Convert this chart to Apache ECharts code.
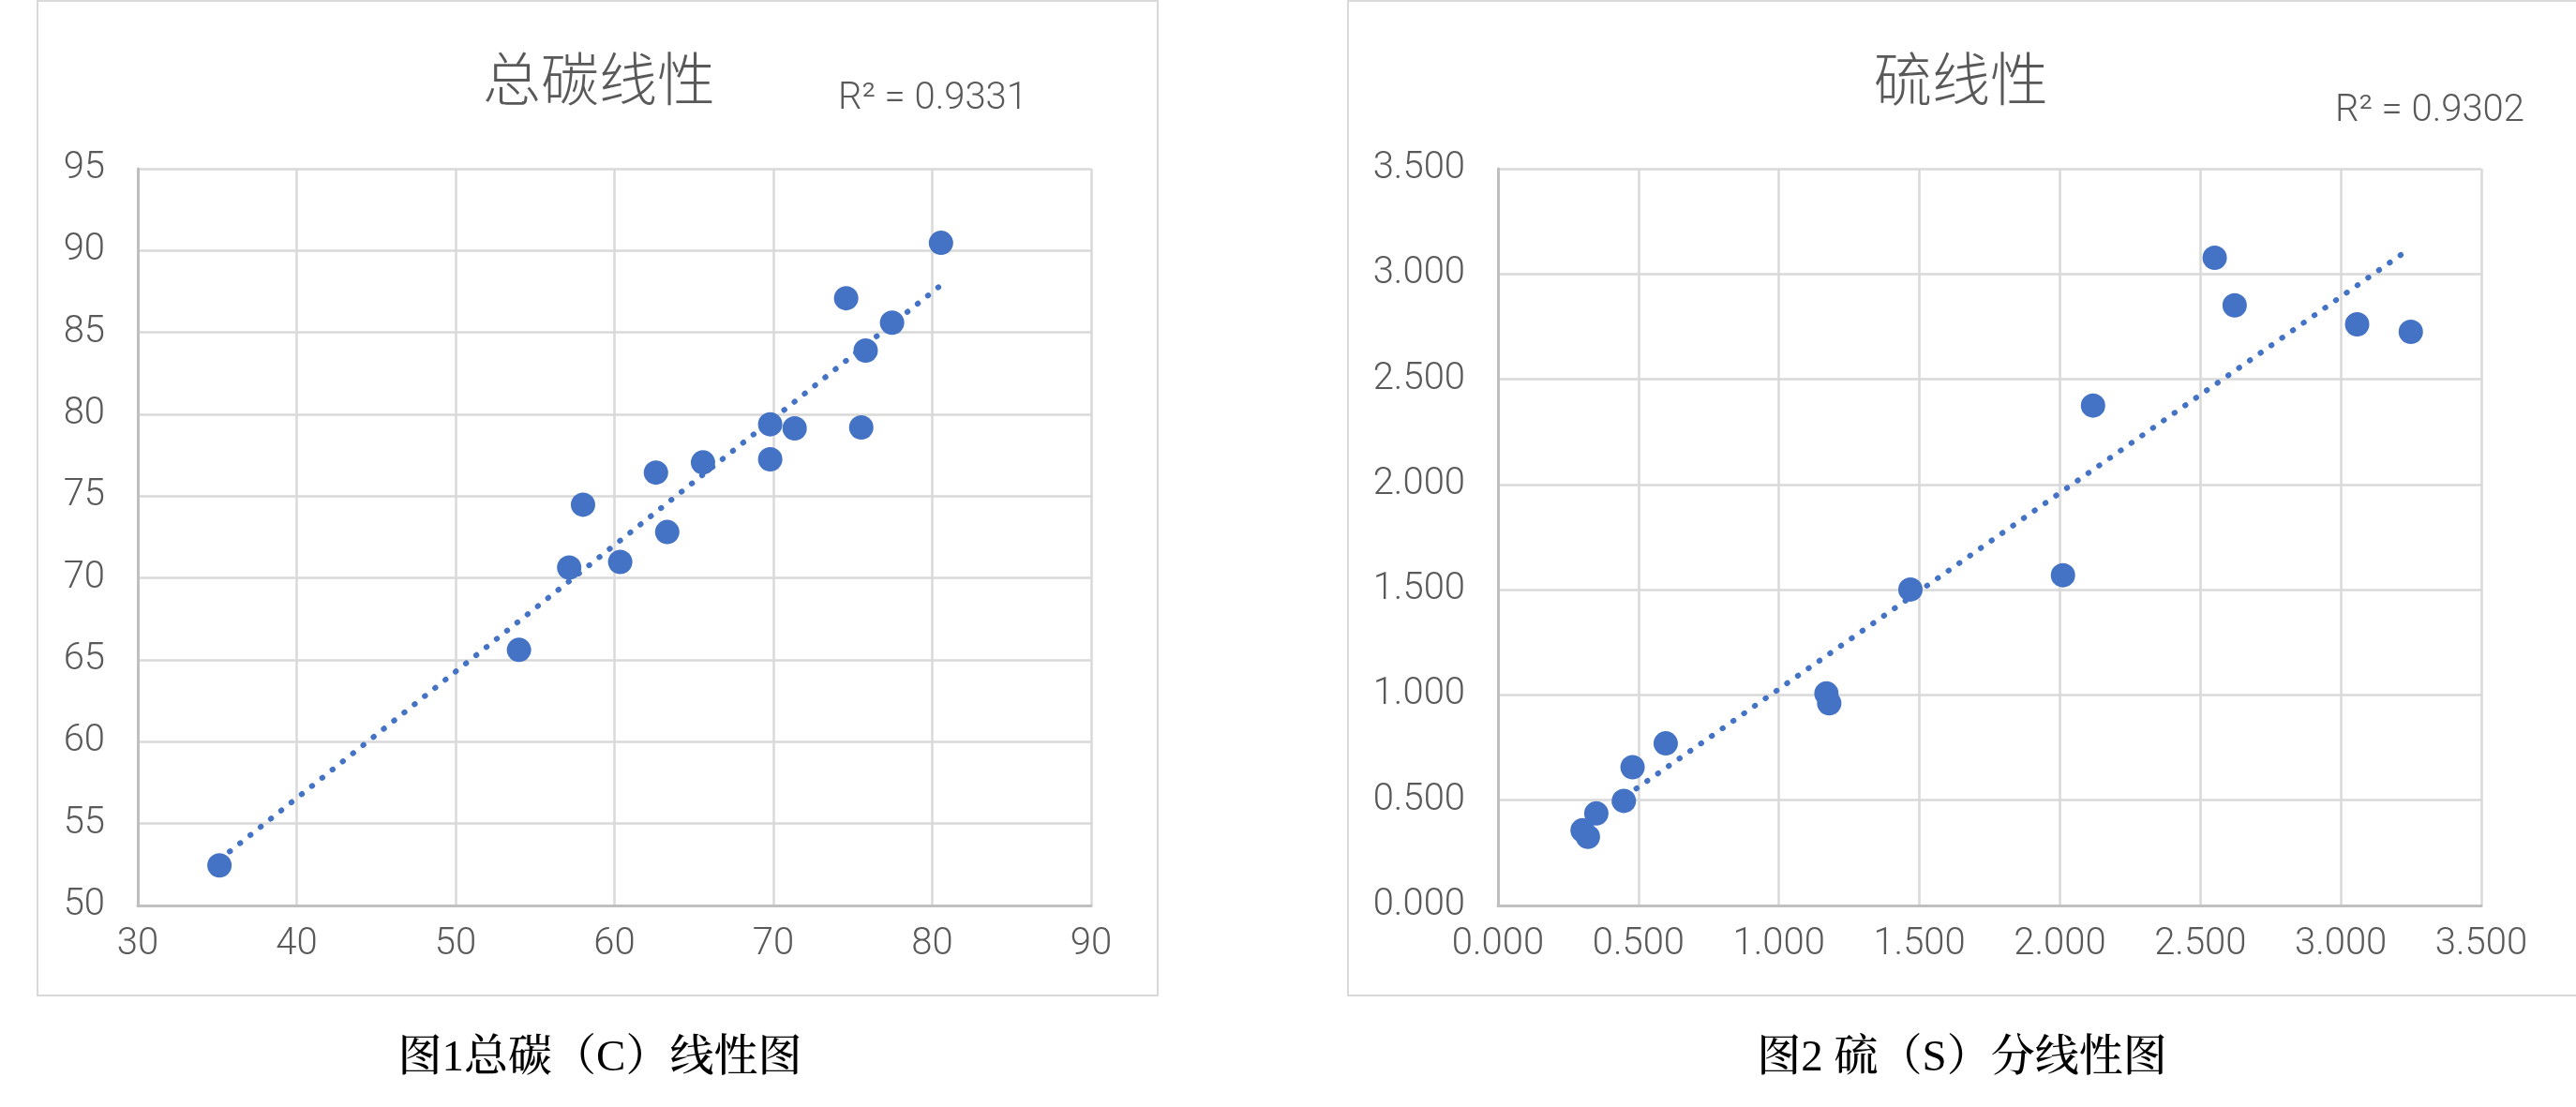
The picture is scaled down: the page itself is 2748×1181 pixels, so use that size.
<!DOCTYPE html>
<html>
<head>
<meta charset="utf-8">
<script src="https://cdn.jsdelivr.net/npm/echarts@6/dist/echarts.min.js"></script>
<style>
html,body{margin:0;padding:0;background:#ffffff;}
#chart{width:2748px;height:1181px;}
</style>
</head>
<body>
<div id="chart"></div>
<script>
// ---------- Chart 1: total carbon ----------
const carbonTitle = '总碳线性';
const carbonR2 = 'R² = 0.9331';
const carbonCaption = '图1总碳（C）线性图';
const carbonX = [35.14, 53.99, 57.15, 58.02, 60.36, 62.61, 63.32, 65.57, 69.80, 69.80, 71.34, 74.58, 75.53, 75.81, 77.47, 80.55];
const carbonY = [52.45, 65.61, 70.64, 74.48, 70.98, 76.44, 72.81, 77.06, 79.39, 77.25, 79.14, 87.09, 79.20, 83.89, 85.60, 90.47];
const carbonXTicks = [30, 40, 50, 60, 70, 80, 90];
const carbonYTicks = [50, 55, 60, 65, 70, 75, 80, 85, 90, 95];

// ---------- Chart 2: sulfur ----------
const sulfurTitle = '硫线性';
const sulfurR2 = 'R² = 0.9302';
const sulfurCaption = '图2 硫（S）分线性图';
const sulfurX = [0.301, 0.320, 0.350, 0.448, 0.479, 0.597, 1.169, 1.179, 1.468, 2.011, 2.118, 2.551, 2.622, 3.058, 3.249];
const sulfurY = [0.357, 0.326, 0.437, 0.497, 0.657, 0.770, 1.007, 0.961, 1.501, 1.569, 2.375, 3.077, 2.851, 2.761, 2.725];
const sulfurXTicks = [0, 0.5, 1, 1.5, 2, 2.5, 3, 3.5];
const sulfurYTicks = [0, 0.5, 1, 1.5, 2, 2.5, 3, 3.5];

// least-squares linear trendline over the data's x range
function trend(xs, ys) {
  const n = xs.length;
  let sx = 0, sy = 0, sxx = 0, sxy = 0;
  for (let i = 0; i < n; i++) { sx += xs[i]; sy += ys[i]; sxx += xs[i] * xs[i]; sxy += xs[i] * ys[i]; }
  const b = (n * sxy - sx * sy) / (n * sxx - sx * sx);
  const a = (sy - b * sx) / n;
  const x0 = Math.min.apply(null, xs), x1 = Math.max.apply(null, xs);
  return [[x0, a + b * x0], [x1, a + b * x1]];
}
function pairs(xs, ys) { return xs.map((x, i) => [x, ys[i]]); }

const BLUE = '#4472C4';
const LABEL_FONT = 'Roboto, "Noto Sans", sans-serif';
const CJK_FONT = '"Noto Sans CJK SC", sans-serif';
const CAPTION_FONT = '"Liberation Serif", "Noto Serif CJK SC", "Noto Sans CJK SC", serif';

function axis(ticks, gridIndex, decimals, margin) {
  return {
    type: 'value',
    gridIndex: gridIndex,
    min: ticks[0],
    max: ticks[ticks.length - 1],
    interval: ticks[1] - ticks[0],
    axisLine: { show: true, onZero: false, lineStyle: { color: '#bfbfbf', width: 3 } },
    axisTick: { show: false },
    splitLine: { show: true, lineStyle: { color: '#d9d9d9', width: 2.5 } },
    axisLabel: {
      margin: margin,
      color: '#595959',
      fontSize: 40,
      fontFamily: LABEL_FONT,
      fontWeight: 300,
      formatter: v => Number(v).toFixed(decimals)
    }
  };
}

function text(x, y, str, size, family, color, align, weight) {
  return {
    type: 'text', x: x, y: y, z: 10,
    style: { text: str, fontSize: size, fontFamily: family, fontWeight: weight || 'normal', fill: color, align: align, verticalAlign: 'middle' }
  };
}

const chart = echarts.init(document.getElementById('chart'), null, { renderer: 'canvas' });
chart.setOption({
  animation: false,
  backgroundColor: '#ffffff',
  grid: [
    { left: 147, top: 180, width: 1017, height: 786, containLabel: false },
    { left: 1598, top: 180, width: 1049, height: 786, containLabel: false }
  ],
  xAxis: [
    axis(carbonXTicks, 0, 0, 22),
    axis(sulfurXTicks, 1, 3, 22)
  ],
  yAxis: [
    axis(carbonYTicks, 0, 0, 35),
    axis(sulfurYTicks, 1, 3, 35)
  ],
  series: [
    { type: 'scatter', xAxisIndex: 0, yAxisIndex: 0, data: pairs(carbonX, carbonY), symbolSize: 26, itemStyle: { color: BLUE, opacity: 1 }, z: 2 },
    { type: 'line', xAxisIndex: 0, yAxisIndex: 0, data: trend(carbonX, carbonY), showSymbol: false, symbol: 'none',
      lineStyle: { color: BLUE, width: 6, type: [0.5, 13.5], cap: 'round', opacity: 1 }, z: 3 },
    { type: 'scatter', xAxisIndex: 1, yAxisIndex: 1, data: pairs(sulfurX, sulfurY), symbolSize: 26, itemStyle: { color: BLUE, opacity: 1 }, z: 2 },
    { type: 'line', xAxisIndex: 1, yAxisIndex: 1, data: trend(sulfurX, sulfurY), showSymbol: false, symbol: 'none',
      lineStyle: { color: BLUE, width: 6, type: [0.5, 13.5], cap: 'round', opacity: 1 }, z: 3 }
  ],
  graphic: [
    { type: 'rect', z: 0, shape: { x: 40, y: 1, width: 1195, height: 1061 }, style: { fill: 'none', stroke: '#d9d9d9', lineWidth: 2 } },
    { type: 'rect', z: 0, shape: { x: 1438, y: 1, width: 1330, height: 1061 }, style: { fill: 'none', stroke: '#d9d9d9', lineWidth: 2 } },
    text(639, 84, carbonTitle, 62, CJK_FONT, '#595959', 'center', 300),
    text(894, 106, carbonR2, 40, LABEL_FONT, '#595959', 'left', 300),
    text(2092, 84, sulfurTitle, 62, CJK_FONT, '#595959', 'center', 300),
    text(2491, 119, sulfurR2, 40, LABEL_FONT, '#595959', 'left', 300),
    text(640, 1130, carbonCaption, 47, CAPTION_FONT, '#000000', 'center', 500),
    text(2093, 1130, sulfurCaption, 47, CAPTION_FONT, '#000000', 'center', 500)
  ]
});
</script>
</body>
</html>
